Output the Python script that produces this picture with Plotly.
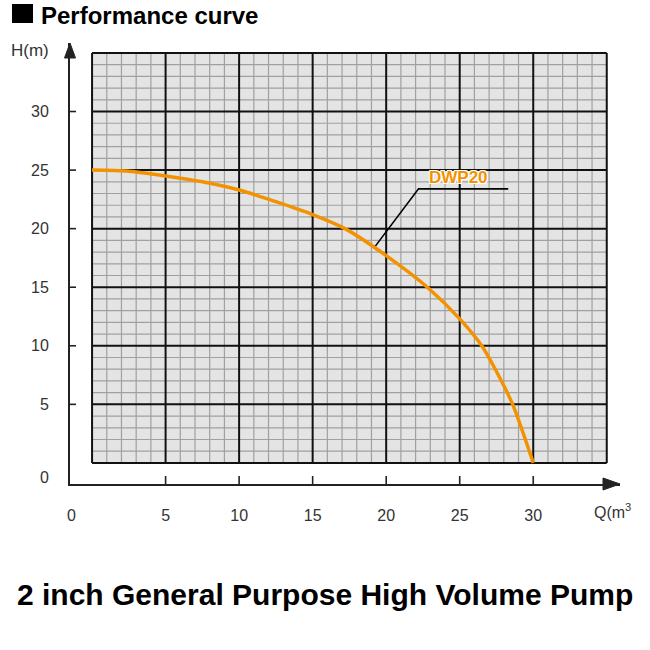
import plotly.graph_objects as go

# pump curve
flow_q = [0, 2.5, 5, 7.5, 10, 12.5, 15, 17.2, 20, 22.8, 25, 26.5, 27.5, 28.6, 29.3, 30]
head_h = [25.0, 24.9, 24.5, 24.0, 23.3, 22.3, 21.2, 20.0, 17.7, 15.0, 12.3, 10.0, 7.8, 5.0, 2.6, 0]
model = "DWP20"

# callout leader (Q, H)
leader_q = [19.2, 22.2, 28.3]
leader_h = [18.4, 23.4, 23.4]

x_ticks = [5, 10, 15, 20, 25, 30]
y_ticks = [5, 10, 15, 20, 25, 30]
GRID_MAX = 35
X_MIN, X_MAX = -1.5, 35.9
Y_MIN, Y_MAX = -1.8, 35.85

FONT = "Liberation Sans, Arial, sans-serif"
ORANGE = "#f39200"

fig = go.Figure()

fig.add_trace(go.Scatter(x=leader_q, y=leader_h, mode="lines",
                         line=dict(color="black", width=1.6), hoverinfo="skip"))
fig.add_trace(go.Scatter(x=flow_q, y=head_h, mode="lines", name=model,
                         line=dict(color=ORANGE, width=3.5, shape="spline", smoothing=0.8)))

shapes = []
# grey graph paper
shapes.append(dict(type="rect", xref="x", yref="y", x0=0, x1=GRID_MAX, y0=0, y1=GRID_MAX,
                   fillcolor="#e4e4e4", line=dict(width=0), layer="below"))
for v in range(0, GRID_MAX + 1):
    if v % 5 == 0:
        continue
    shapes.append(dict(type="line", xref="x", yref="y", x0=v, x1=v, y0=0, y1=GRID_MAX,
                       line=dict(color="#a0a0a0", width=1.2), layer="below"))
    shapes.append(dict(type="line", xref="x", yref="y", x0=0, x1=GRID_MAX, y0=v, y1=v,
                       line=dict(color="#a0a0a0", width=1.2), layer="below"))
for v in range(0, GRID_MAX + 1, 5):
    shapes.append(dict(type="line", xref="x", yref="y", x0=v, x1=v, y0=0, y1=GRID_MAX,
                       line=dict(color="#111", width=2), layer="below"))
    shapes.append(dict(type="line", xref="x", yref="y", x0=0, x1=GRID_MAX, y0=v, y1=v,
                       line=dict(color="#111", width=2), layer="below"))

# tick marks crossing the axis lines
for t in x_ticks:
    shapes.append(dict(type="line", xref="x", yref="y", ysizemode="pixel", yanchor=Y_MIN,
                       x0=t, x1=t, y0=-9, y1=8, line=dict(color="#222", width=1.6)))
for t in y_ticks:
    shapes.append(dict(type="line", xref="x", yref="y", xsizemode="pixel", xanchor=X_MIN,
                       y0=t, y1=t, x0=-6, x1=6, line=dict(color="#222", width=1.6)))

# arrow heads at the axis ends (paper refs so they are not clipped)
shapes.append(dict(type="path", xref="paper", yref="paper", xsizemode="pixel", ysizemode="pixel",
                   xanchor=1, yanchor=0, path="M 0 0 L -17 6 L -17 -6 Z",
                   fillcolor="#222", line=dict(color="#222", width=1)))
shapes.append(dict(type="path", xref="paper", yref="paper", xsizemode="pixel", ysizemode="pixel",
                   xanchor=0, yanchor=1, path="M 0 0 L -5.5 -15 L 5.5 -15 Z",
                   fillcolor="#222", line=dict(color="#222", width=1)))

# black square before the heading
shapes.append(dict(type="rect", xref="paper", yref="paper", xsizemode="pixel", ysizemode="pixel",
                   xanchor=0, yanchor=1, x0=-58, x1=-37, y0=20, y1=39,
                   fillcolor="black", line=dict(width=0)))

annotations = [
    dict(x=0, y=1, xref="paper", yref="paper", xshift=-40, yshift=-7, text="H(m)",
         showarrow=False, font=dict(family=FONT, size=17, color="#333"),
         xanchor="center", yanchor="middle"),
    dict(x=34.0, y=0, xref="x", yref="paper", yshift=-27, text="Q(m<sup>3</sup>",
         showarrow=False, font=dict(family=FONT, size=16, color="#333"),
         xanchor="left", yanchor="middle"),
    dict(x=24.9, y=24.4, xref="x", yref="y", text="<b>" + model + "</b>", showarrow=False,
         font=dict(family=FONT, size=17, color=ORANGE,
                   shadow="1px 1px 0 white, -1px -1px 0 white, 1px -1px 0 white, -1px 1px 0 white"),
         xanchor="center", yanchor="middle"),
    dict(x=0, y=1, xref="paper", yref="paper", xshift=-31, yshift=28,
         text="<b>Performance curve</b>", showarrow=False,
         font=dict(family=FONT, size=24, color="black"), xanchor="left", yanchor="middle"),
    dict(x=(325 - 70) / 550, y=0, xref="paper", yref="paper", yshift=-110,
         text="<b>2 inch General Purpose High Volume Pump</b>", showarrow=False,
         font=dict(family=FONT, size=30, color="black"), xanchor="center", yanchor="middle"),
]

fig.update_layout(
    width=650, height=650,
    margin=dict(l=70, r=30, t=43, b=166),
    paper_bgcolor="white", plot_bgcolor="white",
    showlegend=False,
    font=dict(family=FONT, size=16, color="#333"),
    shapes=shapes, annotations=annotations,
    xaxis=dict(range=[X_MIN, X_MAX], showgrid=False, zeroline=False,
               showline=True, linecolor="#222", linewidth=2,
               tickmode="array", tickvals=[X_MIN + 0.1] + x_ticks,
               ticktext=["0"] + [str(t) for t in x_ticks], ticks="",
               ticklabelstandoff=16, tickfont=dict(size=16, color="#333")),
    yaxis=dict(range=[Y_MIN, Y_MAX], showgrid=False, zeroline=False,
               showline=True, linecolor="#222", linewidth=2,
               tickmode="array", tickvals=[-1.2] + y_ticks,
               ticktext=["0"] + [str(t) for t in y_ticks], ticks="",
               ticklabelstandoff=16, tickfont=dict(size=16, color="#333")),
)

fig.write_html("out.html", config={"displayModeBar": False},
               post_script="document.body.style.margin='0';")
